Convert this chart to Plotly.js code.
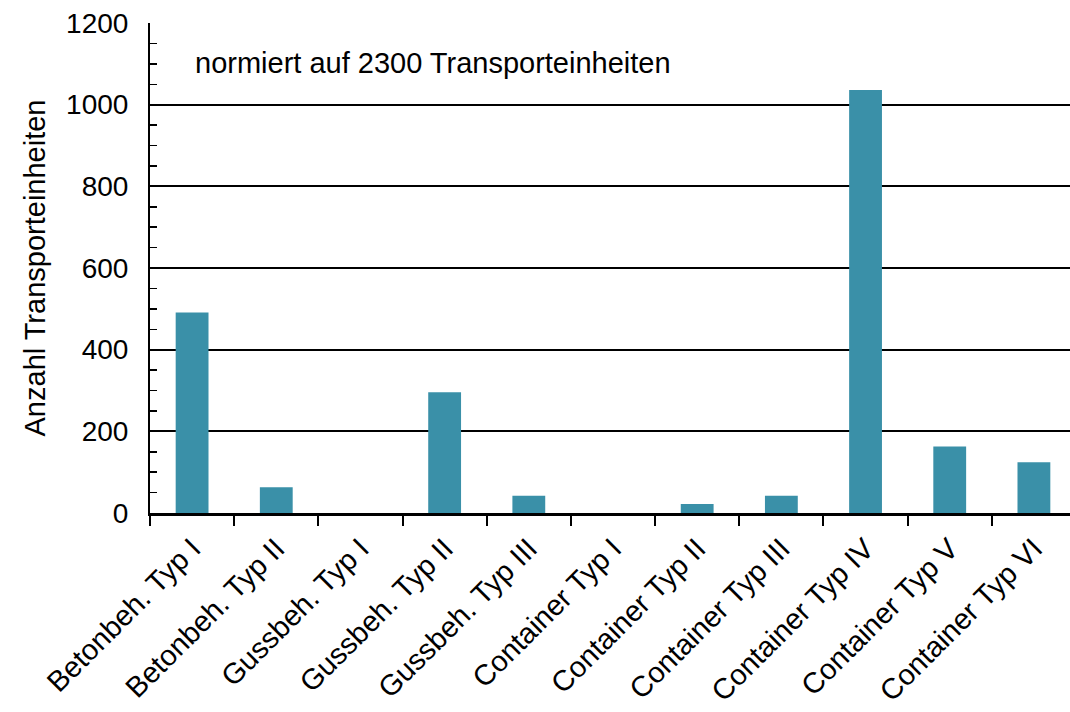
<!DOCTYPE html>
<html><head><meta charset="utf-8">
<script src="https://cdn.plot.ly/plotly-3.0.1.min.js"></script>
<style>html,body{margin:0;padding:0;background:#fff;overflow:hidden}#chart{width:1078px;height:712px}</style>
</head><body><div id="chart"></div>
<script>
const categories = ["Betonbeh. Typ I","Betonbeh. Typ II","Gussbeh. Typ I","Gussbeh. Typ II","Gussbeh. Typ III","Container Typ I","Container Typ II","Container Typ III","Container Typ IV","Container Typ V","Container Typ VI"];
const values = [491, 63, 0, 296, 42, 0, 22, 42, 1036, 163, 124];
const yTickVals = [0, 200, 400, 600, 800, 1000, 1200];
const note = "normiert auf 2300 Transporteinheiten";
const yTitle = "Anzahl Transporteinheiten";

const font = "Liberation Sans, Arial, sans-serif";
Plotly.newPlot('chart', [{
  type: 'bar', x: categories, y: values,
  marker: {color: '#3a90a8'}, hoverinfo: 'x+y'
}], {
  width: 1078, height: 712,
  margin: {l: 150, r: 2, t: 23, b: 199},
  paper_bgcolor: '#fff', plot_bgcolor: '#fff',
  bargap: 0.61, showlegend: false,
  font: {family: font, color: '#000', size: 28},
  xaxis: {
    type: 'category', tickson: 'boundaries', ticks: 'outside', ticklen: 10, tickwidth: 2, tickcolor: '#000',
    tickangle: -45, tickfont: {size: 29, family: font}, ticklabelstandoff: 4,
    showline: true, linecolor: '#000', linewidth: 3, showgrid: false, zeroline: false, fixedrange: true
  },
  yaxis: {
    range: [0, 1200], tickvals: yTickVals, ticks: 'inside', ticklen: 7, tickwidth: 1.5, tickcolor: '#000',
    tickfont: {size: 28, family: font}, ticklabelstandoff: 14,
    minor: {dtick: 50, ticks: 'inside', ticklen: 7, tickwidth: 1.5, tickcolor: '#000', showgrid: false},
    showline: true, linecolor: '#000', linewidth: 2,
    showgrid: true, gridcolor: '#000', gridwidth: 1.8, zeroline: false,
    title: {text: yTitle, font: {size: 29, family: font}, standoff: 12}, fixedrange: true
  },
  annotations: [{
    xref: 'paper', yref: 'paper', x: 0.046, y: 0.918, xanchor: 'left', yanchor: 'middle',
    text: note, showarrow: false, font: {size: 29, family: font, color: '#000'}
  }]
}, {displayModeBar: false, staticPlot: true});
</script></body></html>
